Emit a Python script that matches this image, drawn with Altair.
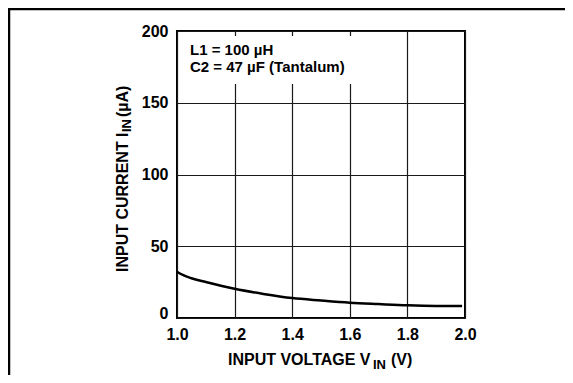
import altair as alt
import pandas as pd

# ---- data ----
vin = [1.0, 1.02, 1.05, 1.1, 1.2, 1.3, 1.4, 1.5, 1.6, 1.7, 1.8, 1.9, 1.99]
iin = [32.2, 30.0, 27.7, 25.1, 20.4, 16.8, 13.9, 12.2, 10.7, 9.7, 8.8, 8.4, 8.4]
x_ticks = [1.0, 1.2, 1.4, 1.6, 1.8, 2.0]
y_ticks = [0, 50, 100, 150, 200]
note_lines = ["L1 = 100 µH", "C2 = 47 µF (Tantalum)"]
x_title = ["INPUT VOLTAGE V", "IN", "(V)"]
y_title = ["INPUT CURRENT I", "IN", "(µA)"]

FONT = "Liberation Sans"
W, H = 288, 287

df = pd.DataFrame({"vin": vin, "iin": iin})
one = pd.DataFrame({"k": [0]})

label_style = dict(labelFont=FONT, labelFontSize=16, labelFontWeight="bold",
                   labelColor="black", labelFlush=False, labelOverlap=False)
grid_style = dict(grid=True, gridColor="#1a1a1a", gridWidth=1.2, domain=False,
                  ticks=False, tickSize=0, title=None)

x_enc = alt.X("vin:Q",
              scale=alt.Scale(domain=[1.0, 2.0], nice=False, zero=False),
              axis=alt.Axis(values=x_ticks, format=".1f", labelPadding=8,
                            **grid_style, **label_style))
y_enc = alt.Y("iin:Q",
              scale=alt.Scale(domain=[0, 200], nice=False),
              axis=alt.Axis(values=y_ticks, format="d", labelPadding=9,
                            labelBaseline={"condition": {"test": "datum.value == 0",
                                                         "value": "alphabetic"},
                                           "value": "middle"},
                            **grid_style, **label_style))

curve = alt.Chart(df).mark_line(color="black", strokeWidth=2.5,
                                interpolate="monotone").encode(x=x_enc, y=y_enc)

# white panel behind the annotation (hides the grid there)
box = alt.Chart(one).mark_rect(color="white").encode(
    x=alt.value(2), x2=alt.value(180), y=alt.value(5), y2=alt.value(53))

txt = dict(font=FONT, fontSize=16, fontWeight="bold", color="black",
           align="left", baseline="alphabetic")

notes = [alt.Chart(one).mark_text(**{**txt, "fontSize": 15}).encode(
    x=alt.value(13), y=alt.value(24 + 17 * i), text=alt.value(s))
    for i, s in enumerate(note_lines)]

# x axis title with subscript
xt = [
    alt.Chart(one).mark_text(**txt).encode(x=alt.value(51), y=alt.value(334), text=alt.value(x_title[0])),
    alt.Chart(one).mark_text(**{**txt, "fontSize": 13}).encode(x=alt.value(196), y=alt.value(338), text=alt.value(x_title[1])),
    alt.Chart(one).mark_text(**txt).encode(x=alt.value(214), y=alt.value(334), text=alt.value(x_title[2])),
]

# y axis title (rotated) with subscript
yt = [
    alt.Chart(one).mark_text(**txt, angle=270).encode(x=alt.value(-49), y=alt.value(241), text=alt.value(y_title[0])),
    alt.Chart(one).mark_text(**{**txt, "fontSize": 13}, angle=270).encode(x=alt.value(-46), y=alt.value(101), text=alt.value(y_title[1])),
    alt.Chart(one).mark_text(**txt, angle=270).encode(x=alt.value(-49), y=alt.value(86), text=alt.value(y_title[2])),
]

# figure frame lines (top and left)
frame_top = alt.Chart(one).mark_rule(color="black", strokeWidth=2.5).encode(
    x=alt.value(-169), x2=alt.value(388), y=alt.value(-22))
frame_left = alt.Chart(one).mark_rule(color="black", strokeWidth=2.5).encode(
    x=alt.value(-168), y=alt.value(-23), y2=alt.value(344))

chart = alt.layer(curve, box, *notes, *xt, *yt, frame_top, frame_left).properties(
    width=W, height=H,
    autosize=alt.AutoSizeParams(type="none"),
    padding={"left": 169, "top": 23, "right": 100, "bottom": 57},
).configure_view(stroke="black", strokeWidth=2)

chart.save("out.html", embed_options={"renderer": "svg", "actions": False})
